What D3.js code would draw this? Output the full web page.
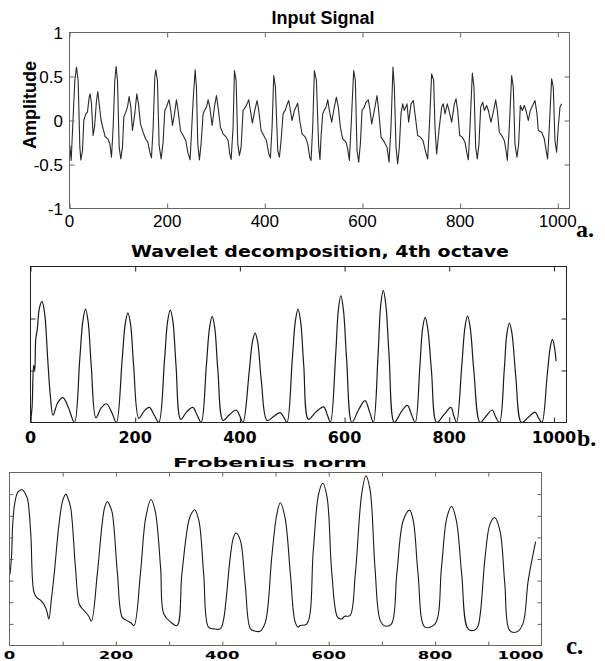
<!DOCTYPE html>
<html><head><meta charset="utf-8">
<script src="https://cdn.jsdelivr.net/npm/d3@7"></script>
<style>
html,body{margin:0;padding:0;background:#fff;}
svg{display:block;}
</style>
</head><body>
<svg id="chart" width="605" height="661"></svg>
<script>
// ---------- Panel a: Input signal ----------
const inputX = [0.7,3.4,10.9,14.3,17.7,21.2,23.2,26.6,29.3,33.4,36.8,40.3,42.3,45.0,48.4,51.2,55.3,58.0,60.7,64.8,68.9,73.0,78.5,82.6,86.0,89.4,92.8,95.5,98.3,101.7,105.1,108.5,111.2,115.3,118.7,122.1,125.6,129.0,133.7,137.8,141.3,145.3,150.8,155.6,160.4,164.5,167.9,171.3,174.7,176.7,180.1,183.6,187.6,191.7,195.2,198.6,202.0,204.0,207.4,210.9,215.0,219.0,222.4,227.2,232.7,238.1,242.2,247.0,253.2,257.3,260.0,262.7,266.1,269.5,273.6,277.0,280.5,283.9,287.3,292.1,296.8,300.9,304.3,309.1,314.6,320.0,324.8,328.2,331.0,335.0,337.8,341.2,344.6,348.0,351.4,355.5,360.3,363.7,367.1,370.5,374.6,379.4,384.2,387.6,392.4,397.8,403.3,408.1,411.5,414.9,418.3,421.7,426.5,429.9,433.3,437.4,442.2,445.6,449.0,452.4,455.8,460.6,467.4,471.5,476.3,483.1,487.9,492.0,494.7,498.1,501.5,505.6,510.4,513.0,515.1,518.6,522.0,525.4,528.8,532.2,537.0,541.1,546.5,550.6,554.7,559.5,566.3,569.7,573.1,576.6,582.0,585.4,588.8,592.3,595.7,599.1,603.9,607.3,612.0,615.5,618.9,624.3,629.8,633.2,638.0,644.8,650.3,654.4,658.4,662.5,665.3,668.7,672.1,675.5,678.9,682.3,685.7,691.2,694.6,699.4,704.2,707.6,713.0,718.5,724.0,728.7,733.5,736.9,741.7,745.8,748.5,751.9,757.4,762.2,765.6,769.0,773.8,777.2,782.7,788.2,791.6,795.0,799.1,804.5,810.0,814.1,816.8,820.2,825.0,828.4,831.8,835.2,838.6,842.1,846.2,849.6,854.3,857.8,863.2,868.7,872.8,876.2,880.3,885.0,890.5,894.0,896.6,900.7,905.5,908.9,912.3,916.4,919.9,923.3,927.4,931.4,934.9,939.6,943.7,953.3,957.4,960.1,967.0,972.4,977.2,979.2,982.6,987.4,990.8,994.2,997.6,1001.0,1004.5,1007.9];
const inputY = [-0.284,-0.455,0.455,0.606,0.455,-0.303,-0.447,-0.341,0,0.076,0.095,0.265,0.303,0.189,-0.170,-0.076,0.227,0.330,0.189,0,-0.095,-0.182,-0.208,-0.265,-0.417,-0.076,0.455,0.614,0.455,-0.303,-0.436,-0.303,0.038,0.095,0.152,0.273,0.152,-0.114,0.076,0.303,0.189,-0.038,-0.133,-0.208,-0.246,-0.360,-0.424,-0.076,0.492,0.576,0.455,-0.284,-0.436,-0.246,0.114,0.152,0.208,0.235,0.114,-0.057,0.076,0.235,0.114,-0.114,-0.170,-0.227,-0.360,-0.447,0.227,0.576,0.379,-0.265,-0.447,-0.265,0.076,0.121,0.152,0.235,0.152,-0.057,0.152,0.284,0.152,-0.076,-0.152,-0.182,-0.227,-0.379,-0.443,-0.076,0.568,0.455,-0.265,-0.398,-0.303,0.114,0.152,0.189,0.235,0.114,-0.030,0.114,0.227,0.114,-0.114,-0.170,-0.227,-0.379,-0.424,-0.076,0.511,0.379,-0.341,-0.417,-0.227,0.076,0.121,0.182,0.227,0.114,0,0.114,0.197,0,-0.152,-0.189,-0.265,-0.417,-0.455,-0.076,0.568,0.455,-0.303,-0.445,-0.189,0.076,0.121,0.152,0.235,0.114,-0.019,0.114,0.265,0.152,-0.076,-0.208,-0.246,-0.322,-0.455,-0.076,0.568,0.455,-0.341,-0.473,-0.265,0.114,0.152,0.208,0.235,0.114,-0.038,0.114,0.284,0.114,-0.189,-0.246,-0.303,-0.473,-0.076,0.606,0.379,-0.303,-0.492,-0.303,0.076,0.189,0.114,0.189,-0.019,0.189,0.227,0.076,-0.170,-0.189,-0.227,-0.341,-0.436,-0.076,0.530,0.455,-0.076,-0.379,-0.076,0.152,0.189,0.076,0.189,0.114,-0.019,0.189,0.246,0.114,-0.170,-0.189,-0.246,-0.379,-0.447,-0.076,0.538,0.379,-0.303,-0.436,-0.265,0.152,0.208,0.114,0.170,0.114,-0.019,0.114,0.235,0.114,-0.133,-0.170,-0.227,-0.341,-0.455,-0.076,0.511,0.379,-0.265,-0.417,-0.265,0.170,0.114,0.170,0.114,0,0.114,0.227,0.076,-0.114,-0.133,-0.208,-0.379,-0.436,-0.076,0.473,0.379,-0.227,-0.360,-0.076,0.152,0.189];
const inputXTicks = [0,200,400,600,800,1000];
const inputYTicks = [-1,-0.5,0,0.5,1];

// ---------- Panel b: Wavelet decomposition, 4th octave ----------
const waveX = [0,3,6,8,10,13,17,22,27,33,38,43,52,62,72,84,94,100,105,110,116,125,135,145,155,164,175,181,186,191,197,207,217,227,236,245,256,262,267,272,278,287,298,310,318,326,336,342,347,352,358,368,380,393,400,406,418,424,429,434,441,452,465,477,484,490,500,506,511,516,522,531,545,560,567,573,583,588,593,598,604,614,627,639,648,655,664,669,674,679,685,695,708,720,728,735,744,749,754,759,766,776,790,803,809,814,824,830,835,840,847,859,871,882,889,896,905,910,915,920,927,938,951,964,971,977,987,993,997,1001,1004];
const waveY = [0,0.3,1.1,1.0,1.6,1.8,2.2,2.33,2.1,1.2,0.5,0.14,0.38,0.48,0.3,0,1.2,1.95,2.18,1.95,1.1,0.09,0.28,0.36,0.2,0,1.2,1.9,2.11,1.9,1.1,0.08,0.22,0.29,0.15,0,1.2,1.95,2.16,1.95,1.1,0.06,0.2,0.29,0.15,0,1.1,1.82,2.04,1.82,1.0,0.04,0.15,0.24,0.12,0,1.0,1.55,1.72,1.55,0.8,0.04,0.12,0.19,0.1,0,1.2,1.95,2.18,1.95,1.1,0.06,0.2,0.3,0.15,0,1.3,2.15,2.44,2.15,1.2,0,0.25,0.42,0.2,0,1.3,2.25,2.54,2.25,1.3,0,0.2,0.33,0.15,0,1.1,1.8,2.02,1.8,1.0,0,0.15,0.29,0.12,0,1.1,1.83,2.05,1.83,1.0,0,0.13,0.24,0.1,0,1.0,1.7,1.91,1.7,0.9,0,0.1,0.2,0.08,0,0.9,1.45,1.6,1.45,1.18];
const waveXTicks = [0,200,400,600,800,1000];
const waveYTicks = [1,2];

// ---------- Panel c: Frobenius norm ----------
const frobX = [1,4,6,10,16,24,30,34,40,46,52,59,65,70,74,79,84,93,100,106,110,115,124,131,137,143,149,154,165,174,179,184,188,193,203,212,221,228,234,246,256,266,274,284,290,303,315,324,337,343,348,356,365,374,384,396,402,415,421,426,434,443,453,462,471,481,493,502,509,518,528,537,543,546,559,571,581,589,597,606,617,625,630,640,650,662,670,678,687,697,706,718,728,740,752,759,768,781,800,812,822,831,840,850,862,875,881,894,903,912,922,931,940,953,965,975,989];
const frobY = [3.3,4.2,5.6,6.6,7.1,7.2,7.0,6.77,5.15,2.46,2.2,2.08,1.89,1.6,1.23,2.2,3.3,5.6,6.7,7.0,6.8,6.38,3.6,1.92,1.7,1.54,1.35,1.12,3.3,5.6,6.4,6.66,6.5,6.15,3.3,1.3,1.15,1.05,0.92,3.3,5.9,6.75,6.2,3.6,1.46,1.08,0.92,3.3,5.77,6.15,6.28,5.77,3.3,0.85,0.77,0.77,1.15,4.1,5.0,5.2,4.85,2.85,0.77,0.66,0.66,1.08,4.1,6.0,6.6,5.9,3.3,1.08,0.85,0.92,1.0,4.38,7.0,7.5,6.85,3.3,1.3,1.23,1.35,1.38,3.3,7.0,7.85,7.15,3.6,1.15,0.9,1.0,3.3,5.77,6.26,5.77,3.3,0.85,1.0,3.6,5.9,6.43,5.77,3.3,0.77,0.72,0.92,4.1,5.6,5.92,5.3,2.85,0.7,0.62,1.0,3.0,4.8];
const frobXTicks = [0,100,200,300,400,500,600,700,800,900,1000];
const frobXLabels = [0,200,400,600,800,1000];
const frobYTicks = [1,2,3,4,5,6,7];

const svg = d3.select("#chart");
svg.append("rect").attr("width",605).attr("height",661).attr("fill","#fff");

function panel(o){
  const g = svg.append("g");
  const x = d3.scaleLinear().domain(o.xDomain).range([o.left,o.right]);
  const y = d3.scaleLinear().domain(o.yDomain).range([o.bottom,o.top]);
  const clipId = "clip"+o.id;
  svg.append("clipPath").attr("id",clipId).append("rect")
    .attr("x",o.left).attr("y",o.top).attr("width",o.right-o.left).attr("height",o.bottom-o.top);
  const pts = o.xs.map((d,i)=>[d,o.ys[i]]);
  g.append("path").datum(pts)
    .attr("clip-path","url(#"+clipId+")")
    .attr("fill","none").attr("stroke",o.lineColor).attr("stroke-width",o.lineWidth)
    .attr("stroke-linejoin","round")
    .attr("d", d3.line().x(d=>x(d[0])).y(d=>y(d[1])).curve(o.curve));
  const tl = o.tickLen;
  const axB = g.append("g").attr("transform",`translate(0,${o.bottom})`)
    .call(d3.axisBottom(x).tickValues(o.xTicks).tickSizeInner(-tl).tickSizeOuter(0).tickFormat(""));
  const axT = g.append("g").attr("transform",`translate(0,${o.top})`)
    .call(d3.axisTop(x).tickValues(o.xTicks).tickSizeInner(-tl).tickSizeOuter(0).tickFormat(""));
  const axL = g.append("g").attr("transform",`translate(${o.left},0)`)
    .call(d3.axisLeft(y).tickValues(o.yTicks).tickSizeInner(-tl).tickSizeOuter(0).tickFormat(""));
  const axR = g.append("g").attr("transform",`translate(${o.right},0)`)
    .call(d3.axisRight(y).tickValues(o.yTicks).tickSizeInner(-tl).tickSizeOuter(0).tickFormat(""));
  [axB,axT,axL,axR].forEach(a=>{
    a.select(".domain").remove();
    a.selectAll("line").attr("stroke",o.axisColor).attr("stroke-width",1);
  });
  g.append("rect").attr("x",o.left).attr("y",o.top)
    .attr("width",o.right-o.left).attr("height",o.bottom-o.top)
    .attr("fill","none").attr("stroke",o.axisColor).attr("stroke-width",1);
  return {g,x,y};
}

// Panel a
const pa = panel({id:"a",xDomain:[0,1024],yDomain:[-1,1],left:69.5,right:569.5,top:32.5,bottom:208.5,
  xs:inputX, ys:inputY, xTicks:inputXTicks, yTicks:inputYTicks.filter(v=>v>-1&&v<1),
  curve:d3.curveLinear, lineColor:"#2a2a2a", lineWidth:1.1, axisColor:"#666", tickLen:5});
pa.g.selectAll(".ylab").data(inputYTicks).join("text")
  .attr("x",63).attr("y",d=>pa.y(d)).attr("dy","0.36em")
  .attr("text-anchor","end").attr("font-family","Liberation Sans, Arial, sans-serif")
  .attr("font-size",17).attr("fill","#000").text(d=>String(d));
pa.g.selectAll(".xlab").data(inputXTicks).join("text")
  .attr("x",d=>pa.x(d)).attr("y",227).attr("text-anchor","middle")
  .attr("font-family","Liberation Sans, Arial, sans-serif")
  .attr("font-size",17).attr("fill","#000").text(d=>String(d));
svg.append("text").attr("x",323).attr("y",24).attr("text-anchor","middle")
  .attr("font-family","Liberation Sans, Arial, sans-serif").attr("font-weight","bold")
  .attr("font-size",18).text("Input Signal");
svg.append("text").attr("transform","translate(36,105) rotate(-90)").attr("text-anchor","middle")
  .attr("font-family","Liberation Sans, Arial, sans-serif").attr("font-weight","bold")
  .attr("font-size",18).text("Amplitude");

// Panel b
const pb = panel({id:"b",xDomain:[0,1024],yDomain:[0,3],left:30.5,right:566.5,top:266.5,bottom:422.5,
  xs:waveX, ys:waveY, xTicks:waveXTicks, yTicks:waveYTicks,
  curve:d3.curveCatmullRom.alpha(0.5), lineColor:"#1a1a1a", lineWidth:1.2, axisColor:"#222", tickLen:5});
pb.g.selectAll(".xlab").data(waveXTicks).join("text")
  .attr("x",d=>pb.x(d)).attr("y",443).attr("text-anchor","middle")
  .attr("font-family","DejaVu Sans, Verdana, sans-serif").attr("font-weight","bold")
  .attr("font-size",16).attr("fill","#000").text(d=>String(d));
svg.append("text").attr("x",131).attr("y",257)
  .attr("font-family","DejaVu Sans, Verdana, sans-serif").attr("font-weight","bold")
  .attr("font-size",16).attr("textLength",378).attr("lengthAdjust","spacingAndGlyphs")
  .text("Wavelet decomposition, 4th octave");

// Panel c
const pc = panel({id:"c",xDomain:[0,1000],yDomain:[0,8],left:9.5,right:541.5,top:472.5,bottom:645.5,
  xs:frobX, ys:frobY, xTicks:frobXTicks.filter(v=>v>0&&v<1000), yTicks:frobYTicks,
  curve:d3.curveCatmullRom.alpha(0.5), lineColor:"#1a1a1a", lineWidth:1.1, axisColor:"#666", tickLen:4});
pc.g.selectAll(".xlab").data(frobXLabels).join("text")
  .attr("x",d=>d===1000 ? pc.x(d)+2 : pc.x(d)).attr("y",659)
  .attr("text-anchor",d=>d===1000 ? "end" : "middle")
  .attr("font-family","DejaVu Sans, Verdana, sans-serif").attr("font-weight","bold")
  .attr("font-size",11).attr("textLength",d=>String(d).length*11.5).attr("lengthAdjust","spacingAndGlyphs")
  .attr("fill","#000").text(d=>String(d));
svg.append("text").attr("x",173).attr("y",467)
  .attr("font-family","DejaVu Sans, Verdana, sans-serif").attr("font-weight","bold")
  .attr("font-size",11.5).attr("textLength",194).attr("lengthAdjust","spacingAndGlyphs")
  .text("Frobenius norm");

// panel letters
const letters = [["a.",576,237,24],["b.",577,446,24],["c.",566,654,25]];
svg.selectAll(".letter").data(letters).join("text")
  .attr("x",d=>d[1]).attr("y",d=>d[2]).attr("font-size",d=>d[3])
  .attr("font-family","Liberation Serif, Times New Roman, serif").attr("font-weight","bold")
  .text(d=>d[0]);
</script>
</body></html>
